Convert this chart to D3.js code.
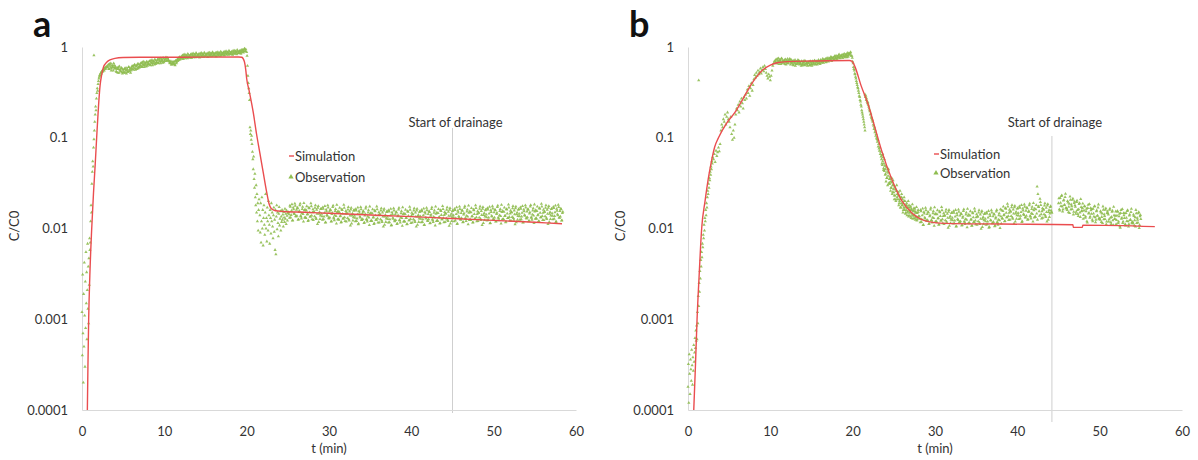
<!DOCTYPE html>
<html>
<head>
<meta charset="utf-8">
<script src="https://cdn.jsdelivr.net/npm/d3@7"></script>
<style>
  body { margin: 0; background: #fff; }
  text { font-family: Lato, "Liberation Sans", Arial, sans-serif; }
</style>
</head>
<body>
<svg id="chart" width="1198" height="460"></svg>
<script>
// axis ticks
const yTicks = [1, 0.1, 0.01, 0.001, 0.0001];
const yTickLabels = ['1', '0.1', '0.01', '0.001', '0.0001'];
const xTicks = [0, 10, 20, 30, 40, 50, 60];
const seriesNames = ['Simulation', 'Observation'];

// drainage start (min)
const drainA = 45.0;
const drainB = 44.2;

// simulation curves [t (min), C/C0]
const simA = [[0.65,.0001],[0.72,.0003],[0.81,.001],[0.95,.003],[1.18,.01],[1.4,.025],[1.6,.05],[1.78,.1],[2.0,.22],[2.2,.38],[2.4,.5],[2.6,.6],[3.0,.68],[3.4,.72],[4.0,.75],[5.0,.765],[7,.77],[12,.772],[19.0,.775],[19.4,.77],[19.7,.7],[19.9,.55],[20.0,.45],[20.3,.33],[20.8,.19],[21.2,.11],[21.6,.068],[22.0,.042],[22.4,.026],[22.7,.019],[23.0,.0165],[23.5,.0157],[24.5,.0154],[27,.0151],[30,.0147],[35,.0141],[40,.0135],[45,.0129],[50,.0123],[55,.0117],[58.3,.0113]];
const simB = [[0.7,.0001],[0.9,.0003],[1.1,.001],[1.35,.003],[1.66,.01],[2.07,.02],[2.5,.037],[2.9,.058],[3.24,.079],[3.7,.1],[4.7,.145],[5.7,.19],[6.7,.27],[7.7,.39],[8.5,.49],[9.1,.56],[10.0,.63],[10.8,.67],[12,.69],[15,.70],[19.6,.71],[19.9,.70],[20.3,.6],[21.0,.38],[21.9,.23],[22.7,.13],[23.5,.073],[24.8,.034],[26.0,.02],[27.2,.0148],[29.2,.0119],[31.2,.0114],[38,.0112],[46.75,.011],[46.8,.0103],[47.9,.0103],[47.95,.0109],[56.7,.0105]];

// observations: [start t, sampling step, values]
const obsA = [
  [0, 0.04, [.0012,.0004,.0031,.0007,.0002,.0019,.0005,.0042,.0011,.0003,.0026,.0008,.0055,.0015,.0033,.0006,.0021,.0068,.0013,.0038,.0009,.0047,.0024,.0078,.0058]],
  [1.0, 0.05, [.007,.012,.018,.015,.031,.042,.055,.048,.078,.096,.12,.15,.18,.22,.20,.27,.31,.35,.33,.39,.42,.45,.47,.49,.48,.51,.52,.51,.54,.53,.55,.54,.56,.57,.55,.58,.59,.57,.60,.59,.61]],
  [3.1, 0.1, [
    .60,.64,.57,.62,.66,.58,.61,.55,.63,.59,
    .58,.53,.57,.60,.52,.56,.54,.59,.51,.55,
    .53,.58,.55,.51,.57,.54,.60,.56,.52,.58,
    .57,.62,.59,.64,.56,.61,.63,.58,.65,.60,
    .62,.67,.60,.65,.69,.63,.66,.61,.68,.64,
    .65,.70,.63,.68,.72,.66,.69,.64,.71,.67,
    .68,.73,.66,.71,.75,.69,.72,.67,.74,.70,
    .73,.77,.71,.75,.72,.69,.66,.70,.64,.67,
    .65,.69,.63,.71,.68,.73,.76,.72,.78,.75,
    .76,.81,.74,.79,.83,.77,.80,.75,.82,.78,
    .78,.83,.76,.81,.85,.79,.82,.77,.84,.80,
    .79,.84,.77,.82,.86,.80,.83,.78,.85,.81,
    .80,.85,.78,.83,.87,.81,.84,.79,.86,.82,
    .81,.86,.79,.84,.88,.82,.85,.80,.87,.83,
    .83,.88,.81,.86,.90,.84,.87,.82,.89,.85,
    .84,.89,.82,.87,.91,.85,.88,.83,.90,.86,
    .86,.91,.84,.89,.93,.87,.95,.90,.94]],
  [3.15, 0.1, [
    .62,.57,.65,.59,.55,.63,.60,.66,.58,.61,
    .54,.59,.52,.57,.61,.55,.58,.53,.57,.52,
    .57,.52,.59,.55,.53,.60,.54,.58,.55,.61,
    .61,.56,.63,.58,.62,.57,.65,.60,.59,.63,
    .66,.61,.68,.63,.60,.67,.64,.69,.62,.66,
    .69,.64,.71,.66,.63,.70,.67,.73,.65,.68,
    .72,.67,.74,.69,.66,.73,.70,.76,.68,.71,
    .75,.70,.76,.72,.70,.67,.68,.64,.66,.69,
    .67,.64,.70,.66,.72,.70,.74,.77,.73,.77,
    .79,.74,.82,.77,.75,.81,.78,.84,.76,.80,
    .81,.76,.84,.79,.77,.83,.80,.86,.78,.82,
    .82,.77,.85,.80,.78,.84,.81,.87,.79,.83,
    .83,.78,.86,.81,.79,.85,.82,.88,.80,.84,
    .84,.79,.87,.82,.80,.86,.83,.89,.81,.85,
    .86,.81,.89,.84,.82,.88,.85,.91,.83,.87,
    .88,.83,.91,.85,.84,.90,.87,.93,.85,.89,
    .90,.86,.93,.88,.92,.89,.96,.91]],
  [20.0, 0.05, [.88,.80,.62,.48,.40,.35,.31,.26,.13,.11,.12,.095,.105,.085,.07,.058,.045,.062,.035,.028,.04,.022,.018,.03,.015,.024,.012,.019,.0095,.016,.021]],
  [21.6, 0.05, [.014,.009,.019,.007,.012,.022,.010,.016,.0065,.013,.018,.011,.0085,.015,.024,.010,.013,.0072,.017,.012,.0095,.020,.014,.011,.0068,.016,.013,.0088,.019,.012,.015,.0105,.0078,.014,.017,.0092,.0125,.0058,.016,.0052,.0135,.018,.0098,.015,.0115,.0082,.0145,.0172,.0108,.0128,.0155,.0095,.0135,.0118,.016,.0125,.0142,.0105,.0152,.0132,.0118,.0165,.0128,.0145,.0112,.0158,.0138,.0122,.0148]],
  [25.1, 0.1, [
    .0152,.0131,.0173,.0141,.0185,.0123,.0163,.0144,.0178,.0135,
    .0138,.0167,.0126,.0156,.0188,.0135,.0147,.0173,.0119,.0159,
    .0161,.0130,.0176,.0144,.0123,.0167,.0135,.0189,.0139,.0151,
    .0124,.0153,.0169,.0131,.0161,.0112,.0177,.0145,.0127,.0164,
    .0145,.0125,.0165,.0135,.0177,.0117,.0155,.0138,.0170,.0129,
    .0132,.0159,.0120,.0149,.0179,.0129,.0140,.0164,.0113,.0152,
    .0155,.0125,.0169,.0138,.0118,.0160,.0129,.0182,.0133,.0145,
    .0119,.0147,.0162,.0126,.0154,.0108,.0169,.0139,.0122,.0157,
    .0139,.0120,.0158,.0129,.0170,.0113,.0149,.0132,.0163,.0124,
    .0127,.0153,.0116,.0144,.0173,.0124,.0135,.0159,.0109,.0146,
    .0149,.0121,.0163,.0133,.0114,.0155,.0125,.0175,.0129,.0140,
    .0116,.0143,.0158,.0122,.0150,.0105,.0165,.0135,.0118,.0152,
    .0135,.0116,.0154,.0126,.0165,.0109,.0144,.0128,.0158,.0120,
    .0124,.0150,.0113,.0140,.0169,.0122,.0132,.0155,.0107,.0143,
    .0147,.0119,.0161,.0131,.0112,.0153,.0123,.0173,.0127,.0138,
    .0116,.0143,.0158,.0122,.0150,.0105,.0165,.0135,.0118,.0152,
    .0136,.0117,.0155,.0126,.0166,.0110,.0146,.0129,.0159,.0121,
    .0126,.0152,.0115,.0142,.0171,.0123,.0134,.0158,.0108,.0145,
    .0150,.0121,.0164,.0134,.0115,.0156,.0126,.0177,.0130,.0141,
    .0118,.0146,.0161,.0125,.0153,.0107,.0168,.0138,.0121,.0156,
    .0140,.0120,.0160,.0130,.0171,.0113,.0150,.0133,.0164,.0125,
    .0130,.0157,.0118,.0147,.0176,.0127,.0138,.0162,.0111,.0149,
    .0154,.0124,.0168,.0137,.0117,.0159,.0128,.0180,.0133,.0144,
    .0121,.0149,.0165,.0128,.0156,.0109,.0172,.0141,.0124,.0159,
    .0142,.0122,.0162,.0132,.0173,.0115,.0152,.0135,.0166,.0126,
    .0132,.0159,.0120,.0149,.0179,.0129,.0140,.0164,.0113,.0152,
    .0156,.0126,.0170,.0139,.0119,.0162,.0130,.0183,.0134,.0146,
    .0122,.0151,.0167,.0130,.0158,.0111,.0174,.0143,.0125,.0161,
    .0145,.0125,.0165,.0135,.0177,.0117,.0155,.0138,.0170,.0129,
    .0133,.0161,.0122,.0151,.0181,.0131,.0142,.0167,.0115,.0154,
    .0159,.0128,.0174,.0142,.0121,.0165,.0133,.0187,.0137,.0149,
    .0124,.0153,.0169,.0131,.0161,.0112,.0177,.0145,.0127,.0164,
    .0147,.0126,.0168,.0137,.0179,.0119,.0157,.0140,.0172,.0131,
    .0135,.0163,.0123,.0153]],
  [25.15, 0.1, [
    .0143,.0179,.0132,.0157,.0122,.0170,.0147,.0188,.0137,.0161,
    .0170,.0125,.0152,.0180,.0138,.0129,.0164,.0144,.0191,.0132,
    .0132,.0158,.0142,.0121,.0170,.0151,.0135,.0176,.0126,.0163,
    .0153,.0136,.0180,.0127,.0145,.0169,.0118,.0152,.0139,.0166,
    .0136,.0171,.0126,.0149,.0116,.0162,.0141,.0180,.0131,.0154,
    .0162,.0119,.0144,.0172,.0132,.0123,.0156,.0137,.0182,.0126,
    .0126,.0152,.0136,.0116,.0163,.0145,.0129,.0169,.0121,.0156,
    .0147,.0130,.0172,.0122,.0139,.0162,.0113,.0146,.0133,.0160,
    .0131,.0164,.0121,.0143,.0111,.0156,.0135,.0172,.0125,.0147,
    .0156,.0115,.0139,.0166,.0127,.0119,.0150,.0132,.0175,.0121,
    .0122,.0147,.0132,.0112,.0158,.0140,.0125,.0163,.0116,.0151,
    .0143,.0126,.0167,.0118,.0135,.0158,.0110,.0141,.0129,.0155,
    .0127,.0159,.0117,.0139,.0108,.0151,.0131,.0167,.0122,.0143,
    .0153,.0112,.0136,.0162,.0124,.0116,.0147,.0130,.0171,.0119,
    .0120,.0144,.0130,.0111,.0155,.0138,.0123,.0161,.0115,.0149,
    .0143,.0126,.0167,.0118,.0135,.0158,.0110,.0141,.0129,.0155,
    .0128,.0160,.0118,.0140,.0109,.0152,.0132,.0169,.0122,.0144,
    .0155,.0114,.0138,.0164,.0126,.0118,.0149,.0132,.0174,.0121,
    .0123,.0148,.0132,.0113,.0159,.0141,.0126,.0164,.0117,.0152,
    .0146,.0129,.0171,.0121,.0138,.0161,.0113,.0145,.0132,.0158,
    .0132,.0165,.0122,.0144,.0112,.0157,.0136,.0174,.0126,.0148,
    .0159,.0117,.0142,.0169,.0130,.0121,.0154,.0135,.0179,.0124,
    .0125,.0151,.0135,.0116,.0162,.0144,.0128,.0168,.0120,.0155,
    .0149,.0132,.0175,.0124,.0141,.0165,.0115,.0148,.0135,.0162,
    .0133,.0168,.0124,.0146,.0114,.0159,.0138,.0176,.0128,.0151,
    .0162,.0119,.0144,.0172,.0132,.0123,.0156,.0137,.0182,.0126,
    .0127,.0153,.0137,.0117,.0164,.0146,.0130,.0170,.0122,.0157,
    .0151,.0134,.0177,.0125,.0143,.0167,.0117,.0150,.0137,.0164,
    .0136,.0171,.0126,.0149,.0116,.0162,.0141,.0180,.0131,.0154,
    .0164,.0120,.0146,.0174,.0133,.0125,.0158,.0139,.0184,.0128,
    .0130,.0156,.0140,.0120,.0168,.0149,.0133,.0174,.0124,.0161,
    .0153,.0136,.0180,.0127,.0145,.0169,.0118,.0152,.0139,.0166,
    .0138,.0173,.0128,.0151,.0118,.0165,.0143,.0182,.0132,.0156,
    .0166,.0122,.0148]],
  [1.45, 0, [.81]]
];

const obsB = [
  [0, 0.05, [.00018,.00032,.00012,.00041,.00025,.00015,.00036,.00028,.00021,.00046,.00031,.00019,.00038,.00027,.00052,.00034,.00043,.00062,.00048,.00075,.00058]],
  [1.05, 0.05, [.00085,.0006,.0012,.0009,.0018,.0014,.0025,.002,.0034,.0028,.0045,.0038,.0055,.0048,.0068,.0062,.0085,.0078,.011,.0095,.013,.012,.016,.014,.019,.017,.022,.026,.024,.031,.028,.036,.034,.042,.039,.048,.045,.055,.052,.061]],
  [3.1, 0.1, [
    .058,.066,.054,.072,.063,.069,.078,.071,.085,
    .12,.14,.13,.16,.15,.18,.14,.17,.19,.16,
    .15,.13,.17,.11,.095,.12,.10,.14,.18,.21,
    .20,.23,.19,.25,.22,.27,.24,.21,.28,.26,
    .30,.27,.34,.31,.37,.29,.35,.40,.33,.38,
    .44,.49,.46,.52,.48,.55,.50,.53,.58,.51,
    .56,.60,.54,.62,.57,.52,.48,.45,.50,.47,
    .43,.48,.55,.62,.66,.70]],
  [10.6, 0.1, [
    .68,.73,.66,.71,.75,.69,.72,.65,.74,.70,
    .67,.72,.69,.64,.71,.74,.66,.70,.73,.68,
    .66,.70,.63,.68,.72,.65,.69,.67,.71,.64,
    .68,.65,.70,.63,.67,.71,.64,.69,.66,.62,
    .66,.69,.63,.68,.65,.70,.64,.67,.71,.65,
    .68,.64,.70,.66,.69,.72,.67,.71,.68,.73,
    .70,.74,.69,.72,.76,.71,.75,.73,.77,.74,
    .76,.72,.78,.75,.80,.74,.77,.81,.76,.79,
    .78,.82,.76,.80,.84,.79,.83,.77,.81,.85,
    .82,.86,.80]],
  [10.65, 0.1, [
    .71,.66,.74,.69,.65,.72,.68,.75,.67,.70,
    .70,.65,.73,.68,.66,.71,.69,.74,.64,.72,
    .68,.64,.71,.66,.62,.69,.65,.72,.67,.70,
    .66,.62,.69,.65,.68,.63,.70,.66,.64,.68,
    .67,.63,.70,.65,.62,.68,.66,.71,.64,.69,
    .70,.66,.72,.67,.65,.71,.69,.74,.67,.71,
    .72,.68,.75,.71,.69,.74,.72,.78,.70,.75,
    .77,.73,.80,.76,.74,.79,.77,.83,.75,.80,
    .80,.76,.83,.79,.77,.82,.80,.86,.78,.83,
    .84,.88]],
  [19.9, 0.05, [.80,.76,.69,.66,.60,.57,.55,.51,.50,.47,.45,.42,.40,.38,.36,.35,.33,.31,.29,.28,.26,.25,.23,.22,.20,.19,.18,.17,.16,.15,.14,.13,.12]],
  [21.5, 0.05, [
    .30,.28,.29,.26,.27,.25,.24,.245,.23,.22,
    .21,.20,.195,.18,.185,.17,.165,.16,.155,.15,
    .14,.135,.125,.13,.115,.12,.105,.11,.10,.097,
    .090,.094,.080,.085,.076,.072,.078,.066,.070,.062,
    .058,.064,.050,.055,.061,.046,.052,.043,.049,.045,
    .040,.033,.047,.036,.042,.030,.038,.045,.031,.035,
    .031,.037,.026,.033,.028,.036,.024,.030,.034,.027,
    .025,.021,.029,.023,.027,.020,.026,.030,.022,.024,
    .021,.025,.018,.023,.020,.026,.017,.022,.019,.024,
    .018,.021,.015,.019,.017,.022,.016,.020,.0145,.018,
    .016,.019,.014,.017,.0155,.020,.0135,.018,.015,.017,
    .015,.0175,.013,.016,.0145,.0185,.0128,.0158,.0138,.0168,
    .0142,.0165,.0125,.0152,.0135,.0172,.0122,.0148,.0132,.0160,
    .0137]],
  [23.55, 0.1, [
    .052,.066,.044,.058,.039,.049,.036,.045,.041,.032,
    .035,.028,.032,.025,.030,.023,.028,.021,.026,.024,
    .023,.019,.021,.017,.022,.018,.016,.020,.017,.015,
    .018,.015,.017,.014,.016,.0135,.0165,.014,.0155,.013,
    .0155,.0132,.0148,.0126,.0152]],
  [28.1, 0.1, [
    .0136,.0117,.0155,.0126,.0166,.0110,.0146,.0129,.0159,.0121,
    .0124,.0150,.0113,.0140,.0169,.0122,.0132,.0155,.0107,.0143,
    .0146,.0118,.0159,.0130,.0111,.0151,.0122,.0172,.0126,.0137,
    .0112,.0139,.0153,.0119,.0145,.0102,.0160,.0131,.0115,.0148,
    .0131,.0113,.0149,.0122,.0160,.0106,.0140,.0124,.0153,.0117,
    .0120,.0144,.0109,.0135,.0163,.0117,.0127,.0150,.0103,.0138,
    .0142,.0114,.0155,.0126,.0108,.0147,.0118,.0166,.0122,.0133,
    .0110,.0135,.0150,.0116,.0142,.0099,.0156,.0128,.0112,.0144,
    .0128,.0110,.0146,.0119,.0156,.0104,.0137,.0122,.0150,.0114,
    .0118,.0142,.0108,.0133,.0160,.0115,.0125,.0147,.0101,.0136]],
  [28.15, 0.1, [
    .0128,.0160,.0118,.0140,.0109,.0152,.0132,.0169,.0122,.0144,
    .0153,.0112,.0136,.0162,.0124,.0116,.0147,.0130,.0171,.0119,
    .0119,.0143,.0129,.0110,.0154,.0137,.0122,.0159,.0114,.0147,
    .0139,.0123,.0162,.0115,.0131,.0153,.0107,.0137,.0125,.0150,
    .0123,.0155,.0114,.0135,.0105,.0147,.0127,.0162,.0118,.0139,
    .0147,.0108,.0131,.0156,.0120,.0112,.0142,.0125,.0165,.0114,
    .0116,.0139,.0125,.0107,.0150,.0133,.0118,.0155,.0111,.0143,
    .0135,.0120,.0159,.0112,.0128,.0150,.0104,.0134,.0123,.0147,
    .0120,.0151,.0111,.0132,.0102,.0143,.0124,.0159,.0115,.0136,
    .0145,.0106,.0129,.0154,.0118,.0110,.0140,.0123,.0163,.0113]],
  [38.1, 0.1, [
    .0159,.0128,.0174,.0142,.0121,.0165,.0133,.0187,.0137,.0149,
    .0125,.0154,.0171,.0132,.0162,.0113,.0178,.0146,.0128,.0165,
    .0148,.0127,.0169,.0138,.0181,.0120,.0158,.0141,.0173,.0132,
    .0138,.0167,.0126,.0156,.0188,.0135,.0147,.0173,.0119,.0159,
    .0166,.0134,.0181,.0290,.0240,.0172,.0138,.0195,.0143,.0155,
    .0131,.0162,.0179,.0139,.0169,.0119,.0186,.0152,.0134,.0172,
    .0158,.0149]],
  [38.15, 0.1, [
    .0130,.0156,.0140,.0120,.0168,.0149,.0133,.0174,.0124,.0161,
    .0154,.0137,.0181,.0128,.0146,.0171,.0119,.0153,.0140,.0168,
    .0139,.0175,.0129,.0152,.0118,.0166,.0144,.0184,.0133,.0157,
    .0170,.0125,.0152,.0180,.0138,.0129,.0164,.0144,.0191,.0132,
    .0135,.0163,.0146,.0125,.0175,.0155,.0212,.0181,.0129,.0167,
    .0162,.0143,.0189,.0134,.0152,.0179,.0125,.0160,.0146,.0176,
    .0152]],
  [45.0, 0.1, [
    .0190,.0163,.0217,.0177,.0232,.0154,.0203,.0181,.0222,.0169,
    .0166,.0200,.0151,.0187,.0225,.0162,.0176,.0207,.0142,.0191,
    .0180,.0145,.0196,.0160,.0137,.0186,.0150,.0211,.0155,.0168,
    .0128,.0158,.0174,.0135,.0165,.0116,.0182,.0149,.0131,.0168,
    .0145,.0125,.0165,.0135,.0177,.0117,.0155,.0138,.0170,.0129,
    .0129,.0155,.0118,.0146,.0175,.0126,.0137,.0161,.0111,.0148,
    .0147,.0119,.0161,.0131,.0112,.0153,.0123,.0173,.0127,.0138,
    .0112,.0139,.0153,.0119,.0145,.0102,.0160,.0131,.0115,.0148,
    .0130,.0112,.0148,.0121,.0159,.0105,.0139,.0124,.0152,.0116,
    .0118,.0142,.0108,.0133,.0160,.0115,.0125,.0147,.0101,.0136,
    .0127]],
  [45.05, 0.1, [
    .0215,.0158,.0192,.0228,.0175,.0163,.0207,.0182,.0241,.0167,
    .0160,.0193,.0173,.0148,.0207,.0184,.0164,.0214,.0153,.0198,
    .0173,.0153,.0203,.0144,.0163,.0191,.0134,.0172,.0157,.0188,
    .0141,.0177,.0131,.0155,.0120,.0168,.0146,.0186,.0135,.0159,
    .0164,.0120,.0146,.0174,.0133,.0125,.0158,.0139,.0184,.0128,
    .0125,.0150,.0134,.0115,.0161,.0143,.0127,.0167,.0119,.0154,
    .0142,.0126,.0166,.0117,.0134,.0157,.0109,.0140,.0128,.0154,
    .0124,.0156,.0115,.0136,.0106,.0148,.0128,.0164,.0119,.0140,
    .0147,.0108,.0131,.0156,.0120,.0112,.0142,.0125,.0165,.0114,
    .0114,.0137,.0123,.0105,.0147,.0131,.0116,.0152,.0109,.0141]],
  [1.3, 0, [.43]]
];

const red = '#ea4d4f';
const green = '#8fbd50';
const axisGrey = '#d9d9d9';
const textColor = '#333';

const svg = d3.select('#chart');

// flatten observation segments into [t, value] points
function toPoints(segs) {
    const pts = [];
    segs.forEach(([t0, dt, vals]) => vals.forEach((v, i) => pts.push([t0 + i * dt, v])));
    return pts;
}

const panels = [
    { label: 'a', x0: 82, x1: 576, sim: simA, obs: obsA, drain: drainA,
      labelX: 33, yTitleX: 19, legendX: 289, legendY: 156, legendGap: 21, drainTop: 128, drainBottom: 413 },
    { label: 'b', x0: 688, x1: 1182, sim: simB, obs: obsB, drain: drainB,
      labelX: 629, yTitleX: 625, legendX: 934, legendY: 154, legendGap: 19, drainTop: 136, drainBottom: 422 }
];

const yscale = d3.scaleLog().domain([0.0001, 1]).range([410, 47]);

panels.forEach(p => {
    const xscale = d3.scaleLinear().domain([0, 60]).range([p.x0, p.x1]);
    const g = svg.append('g');

    // drainage marker
    g.append('line')
        .attr('x1', xscale(p.drain)).attr('x2', xscale(p.drain))
        .attr('y1', p.drainTop).attr('y2', p.drainBottom)
        .attr('stroke', '#cfcfcf').attr('stroke-width', 1);
    g.append('text')
        .attr('x', xscale(p.drain) + 3).attr('y', 127)
        .attr('text-anchor', 'middle')
        .attr('font-size', 13).attr('fill', textColor)
        .text('Start of drainage');

    // axes
    const yaxis = d3.axisLeft(yscale).tickValues(yTicks)
        .tickFormat((d, i) => yTickLabels[i]).tickSize(0).tickSizeOuter(0).tickPadding(14);
    const gy = g.append('g').attr('transform', `translate(${p.x0},0)`).call(yaxis);
    const xaxis = d3.axisBottom(xscale).tickValues(xTicks).tickSize(0).tickSizeOuter(0).tickPadding(17);
    const gx = g.append('g').attr('transform', 'translate(0,410)').call(xaxis);
    [gx, gy].forEach(ax => {
        ax.select('.domain').attr('stroke', axisGrey);
        ax.selectAll('text').attr('font-size', 13).attr('fill', textColor)
            .attr('font-family', 'Lato, "Liberation Sans", Arial, sans-serif');
    });

    // observations
    const pts = toPoints(p.obs);
    const tri = d3.symbol().type(d3.symbolTriangle).size(4.5);
    g.append('g').selectAll('path')
        .data(pts)
        .join('path')
        .attr('d', tri)
        .attr('transform', d => `translate(${xscale(d[0])},${yscale(d[1])})`)
        .attr('fill', green)
        .attr('opacity', 0.9);

    // simulation
    const line = d3.line().x(d => xscale(d[0])).y(d => yscale(d[1])).curve(d3.curveMonotoneX);
    g.append('path')
        .datum(p.sim)
        .attr('d', line)
        .attr('fill', 'none')
        .attr('stroke', red)
        .attr('stroke-width', 1.4);

    // legend
    g.append('line')
        .attr('x1', p.legendX).attr('x2', p.legendX + 5)
        .attr('y1', p.legendY).attr('y2', p.legendY)
        .attr('stroke', red).attr('stroke-width', 1.4);
    g.append('text')
        .attr('x', p.legendX + 6).attr('y', p.legendY + 4.5)
        .attr('font-size', 13).attr('fill', textColor)
        .text(seriesNames[0]);
    g.append('path')
        .attr('d', d3.symbol().type(d3.symbolTriangle).size(12))
        .attr('transform', `translate(${p.legendX + 2},${p.legendY + p.legendGap})`)
        .attr('fill', green);
    g.append('text')
        .attr('x', p.legendX + 6).attr('y', p.legendY + p.legendGap + 4.5)
        .attr('font-size', 13).attr('fill', textColor)
        .text(seriesNames[1]);

    // titles
    g.append('text')
        .attr('x', (p.x0 + p.x1) / 2).attr('y', 453)
        .attr('text-anchor', 'middle')
        .attr('font-size', 13).attr('fill', textColor)
        .text('t (min)');
    g.append('text')
        .attr('transform', `translate(${p.yTitleX},226) rotate(-90)`)
        .attr('text-anchor', 'middle')
        .attr('font-size', 13).attr('fill', textColor)
        .text('C/C0');
    g.append('text')
        .attr('x', p.labelX).attr('y', 37)
        .attr('font-size', 36).attr('font-weight', 'bold').attr('fill', '#111')
        .attr('font-family', '"Liberation Sans", Arial, sans-serif')
        .text(p.label);
});
</script>
</body>
</html>
